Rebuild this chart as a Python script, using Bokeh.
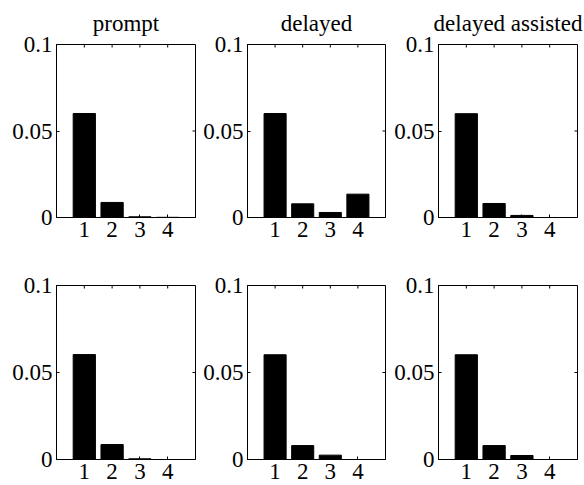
from bokeh.plotting import figure
from bokeh.layouts import column, row
from bokeh.models import LinearAxis, FixedTicker, Range1d
from bokeh.embed import file_html
from bokeh.resources import INLINE

# Category positions and per-panel values
categories = [1, 2, 3, 4]
titles = ["prompt", "delayed", "delayed assisted"]

prompt_top = [0.0601, 0.0087, 0.0004, 0.0001]
delayed_top = [0.0601, 0.0079, 0.0029, 0.0135]
assisted_top = [0.0600, 0.0081, 0.0012, 0.0]

prompt_bottom = [0.0603, 0.0086, 0.0004, 0.0]
delayed_bottom = [0.0602, 0.0080, 0.0025, 0.0]
assisted_bottom = [0.0602, 0.0080, 0.0023, 0.0]

y_ticks = [0, 0.05, 0.1]
y_tick_labels = {0: "0", 0.05: "0.05", 0.1: "0.1"}

FONT = "Liberation Serif"
FS = "23px"
X_MAX, Y_MAX = 5, 0.1
TICK_PX = 3

# (left border, frame width, right border) per column
col_geom = [(56, 139, 1), (51, 138, 2), (51, 139, 7)]
# (top border, frame height, bottom border) per row
row_geom = [(43, 173, 26), (42, 174, 27)]


def make_panel(values, col, rw, title=None):
    lb, fw, rb = col_geom[col]
    tb, fh, bb = row_geom[rw]
    p = figure(
        output_backend="svg", toolbar_location=None,
        frame_width=fw, frame_height=fh,
        min_border_left=lb, min_border_right=rb,
        min_border_top=tb, min_border_bottom=bb,
        x_range=Range1d(0, X_MAX), y_range=Range1d(0, Y_MAX),
        x_axis_location=None, y_axis_location=None,
        background_fill_color="white", border_fill_color="white",
    )
    p.grid.visible = False
    p.outline_line_color = "black"
    p.outline_line_width = 1

    if title:
        p.title.text = title
        p.title.align = "center"
        p.title.text_font = FONT
        p.title.text_font_size = FS
        p.title.text_font_style = "normal"
        p.title.text_color = "black"
        p.title.standoff = 17
        p.title.offset = 0

    p.vbar(x=categories, top=values, width=0.8, bottom=0,
           fill_color="black", line_color="black")

    def style(ax):
        ax.axis_line_color = "black"
        ax.major_tick_in = TICK_PX
        ax.major_tick_out = 0
        ax.minor_tick_line_color = None
        ax.major_tick_line_color = "black"
        ax.major_label_text_font = FONT
        ax.major_label_text_font_size = FS
        ax.major_label_text_color = "black"
        ax.major_label_standoff = 4

    xb = LinearAxis(ticker=FixedTicker(ticks=categories))
    style(xb)
    p.add_layout(xb, "below")
    yl = LinearAxis(ticker=FixedTicker(ticks=y_ticks))
    yl.major_label_overrides = y_tick_labels
    style(yl)
    p.add_layout(yl, "left")

    # inward ticks on the top and right edges of the box
    dy = Y_MAX * TICK_PX / fh
    dx = X_MAX * TICK_PX / fw
    p.segment(x0=categories, x1=categories,
              y0=[Y_MAX] * len(categories), y1=[Y_MAX - dy] * len(categories),
              line_color="black", line_width=1)
    p.segment(x0=[X_MAX] * len(y_ticks), x1=[X_MAX - dx] * len(y_ticks),
              y0=y_ticks, y1=y_ticks, line_color="black", line_width=1)
    return p


top_vals = [prompt_top, delayed_top, assisted_top]
bot_vals = [prompt_bottom, delayed_bottom, assisted_bottom]

top_row = row([make_panel(v, i, 0, titles[i]) for i, v in enumerate(top_vals)], spacing=0)
bot_row = row([make_panel(v, i, 1) for i, v in enumerate(bot_vals)], spacing=0)
layout = column([top_row, bot_row], spacing=0)

open("out.html", "w").write(file_html(layout, INLINE))
